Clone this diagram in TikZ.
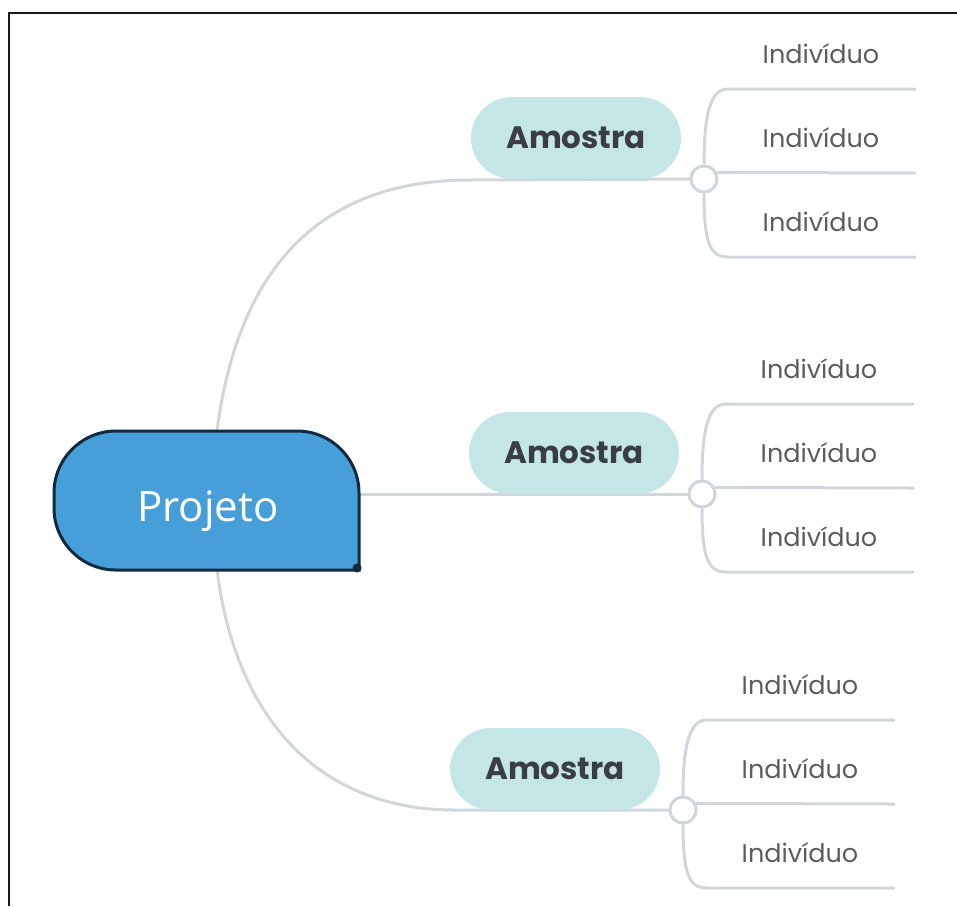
\documentclass[tikz,border=0pt]{standalone}
\usepackage{fontspec}
\setmainfont{Poppins}
\newfontfamily\opensans{Open Sans}
\definecolor{projfill}{HTML}{479FD9}
\definecolor{projdraw}{HTML}{0F2B3D}
\definecolor{pillfill}{HTML}{C4E6E7}
\definecolor{conncol}{HTML}{CFD7DC}
\definecolor{amotext}{HTML}{3A3D48}
\definecolor{indtext}{HTML}{5C5C5C}
\definecolor{framecol}{HTML}{1A1A1A}
\begin{document}
\begin{tikzpicture}[x=1pt,y=-1pt,
  conn/.style={draw=conncol,line width=3pt},
  pill/.style={fill=pillfill,rounded corners=41pt,minimum width=210pt,minimum height=82pt,inner sep=0pt,
    text=amotext,font=\bfseries\fontsize{31}{37}\selectfont},
  hub/.style={circle,draw=conncol,line width=3pt,fill=white,minimum size=26pt,inner sep=0pt},
  ind/.style={anchor=base,text=indtext,font=\fontsize{25.5}{30}\selectfont,inner sep=0pt},
  projtext/.style={anchor=base,text=white,font=\opensans\fontsize{42}{50}\selectfont,inner sep=0pt}
]
\useasboundingbox (0,0) rectangle (957,906);
% frame
\draw[framecol,line width=1.5pt] (9,906) -- (9,13) -- (957,13);

% anchor coordinates on Projeto
\coordinate (ptop) at (217,431);
\coordinate (pmid) at (359,494);
\coordinate (pbot) at (217,570);
\coordinate (j1) at (470,180);
\coordinate (j3) at (455,810);

% groups
\foreach \g/\dx/\dy in {1/0/0,2/-2/315,3/-21/631}{
  \begin{scope}[shift={(\dx,\dy)}]
    \node[hub] (c\g) at (704,179) {};
    \coordinate (t\g) at (728,89);
    \coordinate (b\g) at (728,257);
    \coordinate (et\g) at (916,89);
    \coordinate (em\g) at (916,173);
    \coordinate (eb\g) at (916,257);
    \draw[conn] (c\g.north) .. controls (704,115) and (710,89) .. (t\g) -- (et\g);
    \draw[conn] (c\g.south) .. controls (704,243) and (710,257) .. (b\g) -- (eb\g);
    \draw[conn] (c\g.27) -- (em\g);
    \node[ind] (i\g a) at (821,63) {Indivíduo};
    \node[ind] (i\g b) at (821,147) {Indivíduo};
    \node[ind] (i\g c) at (821,231) {Indivíduo};
  \end{scope}
}

% main connectors
\draw[conn] (ptop) .. controls (238,268) and (320,180) .. (j1) -- (c1);
\draw[conn] (pmid) -- (c2);
\draw[conn] (pbot) .. controls (236,720) and (320,810) .. (j3) -- (c3);

% pills
\node[pill] (a1) at (576,138) {Amostra};
\node[pill] (a2) at (574,453) {Amostra};
\node[pill] (a3) at (555,769) {Amostra};

% hubs on top
\foreach \g/\dx/\dy in {1/0/0,2/-2/315,3/-21/631}{
  \node[hub] at (704+\dx,179+\dy) {};
}

% Projeto shape
\filldraw[fill=projfill,draw=projdraw,line width=3pt]
  (359,570) -- (359,493) arc (0:-90:62) -- (116,431) arc (-90:-180:62)
  -- (54,508) arc (180:90:62) -- cycle;
\fill[projdraw] (357,568) circle (4.5);
\node[projtext] (P) at (208,521) {Projeto};
\end{tikzpicture}
\end{document}
